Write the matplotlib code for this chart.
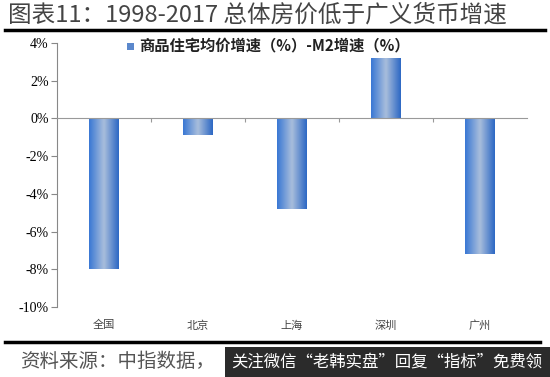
import numpy as np
import matplotlib
matplotlib.use("Agg")
import matplotlib.pyplot as plt
from matplotlib.colors import LinearSegmentedColormap
from matplotlib.patches import Rectangle
from matplotlib.lines import Line2D

plt.rcParams['font.family'] = ['Noto Sans CJK SC', 'DejaVu Sans']

cities = ['全国', '北京', '上海', '深圳', '广州']
diff = [-8.0, -0.9, -4.8, 3.2, -7.2]   # 商品住宅均价增速 - M2增速 (%)
yticks = [4, 2, 0, -2, -4, -6, -8, -10]
legend_label = '商品住宅均价增速（%）-M2增速（%）'
title = '图表11：1998-2017 总体房价低于广义货币增速'
source = '资料来源：中指数据，'
watermark = '关注微信“老韩实盘”回复“指标”免费领'

fig = plt.figure(figsize=(5.5, 3.77), dpi=100)
ax = fig.add_axes([57/550, 1-307/377, 470/550, 264/377])

# horizontal gradient for the bars
cmap = LinearSegmentedColormap.from_list('bar', ['#3a78d4', '#a9bedc', '#2d68c4'])
grad = np.linspace(0, 1, 64).reshape(1, -1)
x = np.arange(len(cities))
bars = ax.bar(x, diff, width=0.31, color='none', edgecolor='none', zorder=2)
for b in bars:
    x0, y0 = b.get_x(), b.get_y()
    w, h = b.get_width(), b.get_height()
    im = ax.imshow(grad, cmap=cmap, aspect='auto', zorder=2,
                   extent=[x0, x0 + w, y0, y0 + h], interpolation='bicubic')
    im.set_clip_path(b)

ax.set_xlim(-0.5, len(cities) - 0.5)
ax.set_ylim(-10, 4)
ax.set_yticks(yticks)
ax.set_yticklabels([f'{v}%' for v in yticks], family='Liberation Serif', fontsize=10)
ax.tick_params(axis='y', direction='out', length=4, color='#888888', pad=2)

for s in ['top', 'right']:
    ax.spines[s].set_visible(False)
ax.spines['left'].set_color('#888888')
ax.spines['bottom'].set_position(('data', 0))
ax.spines['bottom'].set_color('#999999')
ax.spines['bottom'].set_zorder(3)
ax.set_xticks(np.arange(len(cities) - 1) + 0.5)
ax.set_xticklabels([])
ax.tick_params(axis='x', direction='out', length=3, color='#999999')

for i, c in enumerate(cities):
    ax.text(i, -0.05, c, transform=ax.get_xaxis_transform(), ha='center', va='top',
            fontsize=8, color='#444444')

# legend
fig.patches.append(Rectangle((127/550, 1-50/377), 7/550, 7/377, transform=fig.transFigure,
                             facecolor='#5b88cc', edgecolor='none'))
fig.text(139/550, 1-45/377, legend_label, fontsize=11, fontweight='bold', va='center',
         color='#222222')

# title and rules
fig.text(8/550, 1-15/377, title, fontsize=17, va='center', color='#444444')
fig.add_artist(Line2D([5/550, 545/550], [1-30/377, 1-30/377], color='black', lw=2.5,
                      transform=fig.transFigure))
fig.add_artist(Line2D([5/550, 540/550], [1-342/377, 1-342/377], color='black', lw=2.5,
                      transform=fig.transFigure))

# footer
fig.text(20/550, 1-361/377, source, fontsize=14, va='center', color='#555555', style='italic')
fig.patches.append(Rectangle((225/550, 0), 325/550, 30/377, transform=fig.transFigure,
                             facecolor='#2b2b2b', edgecolor='none'))
fig.text(231/550, 1-362/377, watermark, fontsize=11.8, va='center', color='white')

fig.savefig('out.png', dpi=100)
